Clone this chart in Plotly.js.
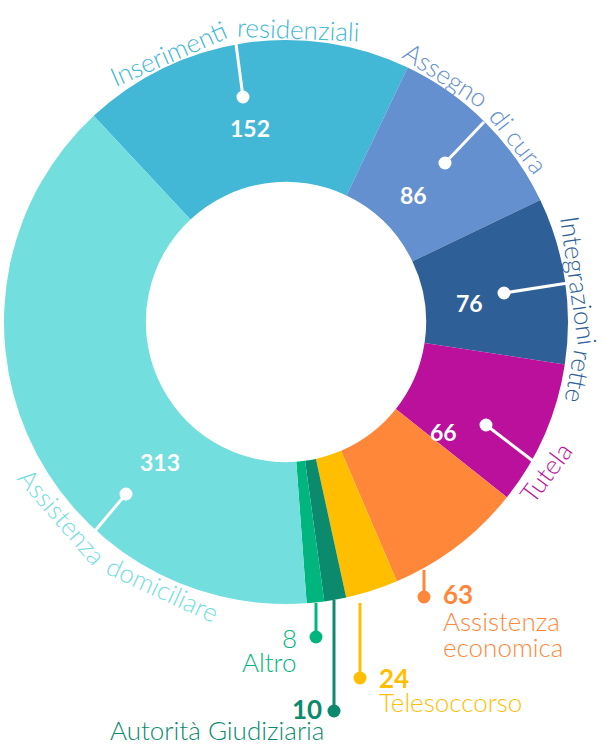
<!DOCTYPE html>
<html>
<head>
<meta charset="utf-8">
<script src="https://cdn.plot.ly/plotly-3.0.1.min.js"></script>
<style>
  html, body { margin: 0; padding: 0; background: #ffffff; }
  #chart { width: 604px; height: 745px; }
</style>
</head>
<body>
<div id="chart"></div>
<script>
// ---- data ----
const categories = [
  "Inserimenti residenziali",
  "Assegno di cura",
  "Integrazioni rette",
  "Tutela",
  "Assistenza economica",
  "Telesoccorso",
  "Autorità Giudiziaria",
  "Altro",
  "Assistenza domiciliare"
];
const values = [152, 86, 76, 66, 63, 24, 10, 8, 313];
const topTitle = "beneficiari";

// ---- styles ----
const colors = ["#42B7D6", "#6490D0", "#2E5F97", "#BA109C", "#FF873A",
                "#FFBE00", "#0B8A6E", "#00B67E", "#72DEDE"];

const W = 604, H = 745;
const CX = 286, CY = 322, R_OUT = 282;
const P = (x, y) => ({ x: x / W, y: 1 - y / H });
const polar = (thetaDeg, r) => {
  const t = thetaDeg * Math.PI / 180;
  return [CX + r * Math.sin(t), CY - r * Math.cos(t)];
};

// curved labels: word groups placed along the outer arc
// (angle clockwise from 12 o'clock; words = [first, last] word index;
//  flip = text on the lower half, turned to stay readable)
const arcWords = [
  { i: 0, words: [0, 0], theta: -23.6, r: 294 },
  { i: 0, words: [1, 1], theta: 2.3, r: 293 },
  { i: 1, words: [0, 0], theta: 33, r: 295 },
  { i: 1, words: [1, 2], theta: 52, r: 295 },
  { i: 2, words: [0, 0], theta: 82, r: 296 },
  { i: 2, words: [1, 1], theta: 100.5, r: 298 },
  { i: 3, words: [0, 0], theta: 120, r: 300, flip: true, angle: -53 },
  { i: 8, words: [0, 0], theta: 228.9, r: 296, flip: true },
  { i: 8, words: [1, 1], theta: 204.8, r: 294, flip: true }
];
const insideVals = [
  { i: 0, x: 250, y: 128 },
  { i: 1, x: 414, y: 195 },
  { i: 2, x: 469, y: 303 },
  { i: 3, x: 443, y: 432 },
  { i: 8, x: 160, y: 462 }
];
const leaders = [
  { i: 0, dot: [243, 97], end: [236, 44] },
  { i: 1, dot: [445, 163], end: [484, 122] },
  { i: 2, dot: [504, 293], end: [568, 283] },
  { i: 3, dot: [486, 425], end: [533, 461] },
  { i: 8, dot: [126, 494], end: [94, 532] },
  { i: 4, dot: [424, 597], end: [424, 570] },
  { i: 5, dot: [360, 678], end: [360, 603] },
  { i: 6, dot: [334, 711], end: [334, 600] },
  { i: 7, dot: [316, 637], end: [316, 603] }
];
// outside horizontal labels
const flatLines = [
  { i: 4, kind: "value", x: 441, y: 594, align: "left", bold: true },
  { i: 4, kind: 0, x: 441, y: 621, align: "left" },
  { i: 4, kind: 1, x: 441, y: 647, align: "left" },
  { i: 5, kind: "value", x: 377, y: 678, align: "left", bold: true },
  { i: 5, kind: "name", x: 377, y: 702, align: "left" },
  { i: 6, kind: "value", x: 324, y: 709, align: "right", bold: true },
  { i: 6, kind: "name", x: 326, y: 730, align: "right" },
  { i: 7, kind: "value", x: 299, y: 638, align: "right", bold: false },
  { i: 7, kind: "name", x: 299, y: 662, align: "right" }
];

const FONT = "Lato, 'Open Sans', sans-serif";
const LABEL_SIZE = 26;

const pieDomainX = [(CX - R_OUT) / W, (CX + R_OUT) / W];
const pieDomainY = [(H - CY - R_OUT) / H, (H - CY + R_OUT) / H];

const trace = {
  type: "pie",
  labels: categories,
  values: values,
  sort: false,
  direction: "clockwise",
  rotation: -43,
  hole: 0.497,
  textinfo: "none",
  hoverinfo: "label+value",
  marker: { colors: colors, line: { width: 0 } },
  domain: { x: pieDomainX, y: pieDomainY },
  showlegend: false
};

const annotations = [];
const shapes = [];

arcWords.forEach(w => {
  const words = categories[w.i].split(" ");
  const [px, py] = polar(w.theta, w.r);
  const p = P(px, py);
  let ang = w.flip ? w.theta - 180 : w.theta;
  while (ang > 180) ang -= 360;
  while (ang < -180) ang += 360;
  if (w.angle !== undefined) ang = w.angle;
  annotations.push({
    xref: "paper", yref: "paper", x: p.x, y: p.y,
    xanchor: "center", yanchor: "middle",
    text: words.slice(w.words[0], w.words[1] + 1).join(" "),
    textangle: ang, showarrow: false,
    font: { family: FONT, size: LABEL_SIZE, color: colors[w.i], weight: 300 }
  });
});

insideVals.forEach(v => {
  const p = P(v.x, v.y);
  annotations.push({
    xref: "paper", yref: "paper", x: p.x, y: p.y,
    xanchor: "center", yanchor: "middle",
    text: "<b>" + values[v.i] + "</b>", showarrow: false,
    font: { family: FONT, size: 23, color: "#ffffff" }
  });
});

flatLines.forEach(f => {
  const p = P(f.x, f.y);
  let txt;
  if (f.kind === "value") txt = f.bold ? "<b>" + values[f.i] + "</b>" : String(values[f.i]);
  else if (f.kind === "name") txt = categories[f.i];
  else txt = categories[f.i].split(" ")[f.kind];
  annotations.push({
    xref: "paper", yref: "paper", x: p.x, y: p.y,
    xanchor: f.align, yanchor: "middle",
    text: txt, showarrow: false,
    font: { family: FONT, size: LABEL_SIZE, color: colors[f.i],
            weight: (f.kind === "value" && f.bold) ? 700 : 300 }
  });
});

leaders.forEach(l => {
  const a = P(l.dot[0], l.dot[1]);
  const b = P(l.end[0], l.end[1]);
  const insideSlice = [0, 1, 2, 3, 8].includes(l.i);
  const col = insideSlice ? "#ffffff" : colors[l.i];
  shapes.push({
    type: "line", xref: "paper", yref: "paper",
    x0: a.x, y0: a.y, x1: b.x, y1: b.y,
    line: { color: col, width: 3 }
  });
  const r = 6.5;
  shapes.push({
    type: "circle", xref: "paper", yref: "paper",
    x0: (l.dot[0] - r) / W, x1: (l.dot[0] + r) / W,
    y0: 1 - (l.dot[1] + r) / H, y1: 1 - (l.dot[1] - r) / H,
    fillcolor: col, line: { width: 0 }
  });
});

// partially visible title at the top edge
annotations.push({
  xref: "paper", yref: "paper", x: 490 / W, y: 1 - 10 / H,
  xanchor: "center", yanchor: "bottom",
  text: topTitle, showarrow: false,
  font: { family: FONT, size: 37, color: "#5B7EC0", weight: 300 }
});

const layout = {
  width: W, height: H,
  margin: { l: 0, r: 0, t: 0, b: 0 },
  paper_bgcolor: "#ffffff",
  plot_bgcolor: "#ffffff",
  showlegend: false,
  annotations: annotations,
  shapes: shapes
};

Plotly.newPlot("chart", [trace], layout, { displayModeBar: false, staticPlot: true });
</script>
</body>
</html>
